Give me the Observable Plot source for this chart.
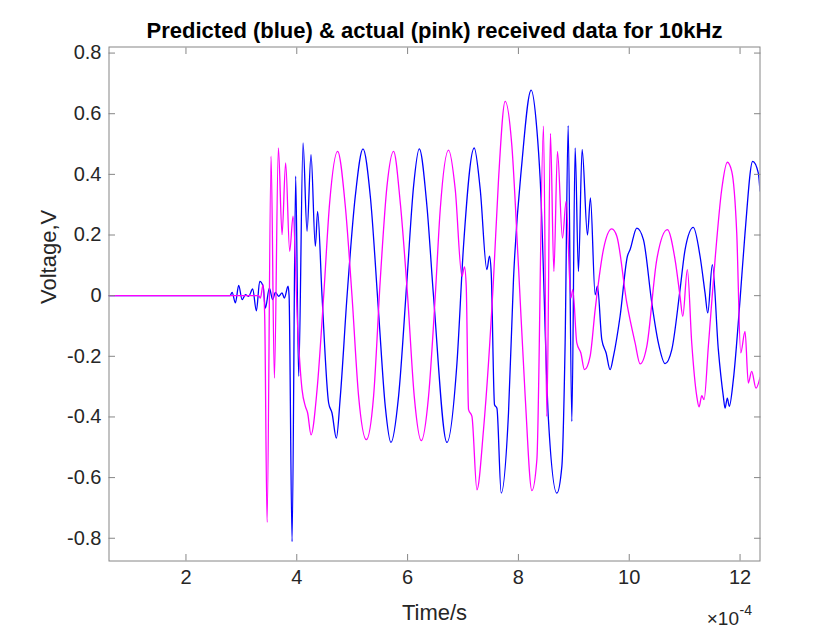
<!DOCTYPE html>
<html><head><meta charset="utf-8">
<script src="https://cdn.jsdelivr.net/npm/d3@7"></script>
<script src="https://cdn.jsdelivr.net/npm/@observablehq/plot@0.6"></script>
<style>body{margin:0;background:#fff} svg{display:block}</style>
</head><body><div id="chart"></div>
<script>
// time in units of 1e-4 s, voltage in V
const blueT = [0.611, 2.78, 2.802, 2.833, 2.892, 2.952, 3.013, 3.073, 3.132, 3.204, 3.271, 3.331, 3.392, 3.433, 3.505, 3.565, 3.614, 3.673, 3.734, 3.776, 3.843, 3.861, 3.915, 3.980, 4.034, 4.113, 4.185, 4.257, 4.335, 4.376, 4.456, 4.575, 4.636, 4.714, 4.786, 4.907, 5.056, 5.195, 5.327, 5.477, 5.597, 5.700, 5.837, 5.989, 6.108, 6.211, 6.349, 6.468, 6.710, 6.891, 7.009, 7.202, 7.311, 7.431, 7.478, 7.509, 7.569, 7.612, 7.689, 7.821, 7.911, 8.063, 8.230, 8.333, 8.393, 8.542, 8.694, 8.784, 8.843, 8.898, 8.964, 9.024, 9.083, 9.150, 9.246, 9.300, 9.385, 9.426, 9.505, 9.583, 9.655, 9.715, 9.835, 9.967, 10.016, 10.137, 10.256, 10.407, 10.526, 10.647, 10.768, 10.917, 11.008, 11.157, 11.278, 11.368, 11.417, 11.500, 11.608, 11.698, 11.729, 11.770, 11.806, 11.879, 12.000, 12.090, 12.228, 12.329, 12.36];
const blueV = [0, 0, 0.001, 0.011, -0.024, 0.034, -0.013, 0.003, -0.002, 0.022, -0.05, 0.047, 0.031, -0.041, 0.025, -0.013, 0.011, -0.002, 0.009, -0.008, 0.031, 0, -0.811, 0.394, -0.266, 0.504, 0.212, 0.465, 0.163, 0.278, -0.002, -0.354, -0.387, -0.47, -0.332, -0.002, 0.328, 0.484, 0.328, -0.057, -0.365, -0.484, -0.332, 0.053, 0.361, 0.484, 0.295, -0.002, -0.484, -0.222, 0.163, 0.487, 0.35, 0.086, 0.13, 0.075, -0.36, -0.371, -0.651, -0.387, 0.053, 0.438, 0.678, 0.548, 0.383, -0.409, -0.651, -0.563, -0.156, 0.561, -0.415, 0.487, 0.08, 0.482, 0.2, 0.322, 0.003, 0.031, -0.145, -0.189, -0.244, -0.2, -0.068, 0.13, 0.152, 0.223, 0.185, -0.024, -0.156, -0.224, -0.178, 0.02, 0.152, 0.225, 0.13, 0.009, -0.057, 0.102, -0.178, -0.332, -0.371, -0.338, -0.365, -0.277, -0.013, 0.207, 0.443, 0.405, 0.345];
const pinkT = [0.611, 3.312, 3.343, 3.392, 3.421, 3.464, 3.536, 3.596, 3.668, 3.734, 3.799, 3.872, 3.933, 4.016, 4.095, 4.155, 4.196, 4.257, 4.366, 4.485, 4.593, 4.737, 4.876, 4.997, 5.116, 5.255, 5.386, 5.507, 5.628, 5.747, 5.868, 6.000, 6.120, 6.247, 6.378, 6.499, 6.589, 6.739, 6.860, 6.981, 7.027, 7.058, 7.100, 7.161, 7.251, 7.370, 7.550, 7.641, 7.761, 7.882, 8.001, 8.122, 8.243, 8.333, 8.452, 8.513, 8.578, 8.640, 8.705, 8.795, 8.861, 8.946, 8.982, 9.054, 9.127, 9.192, 9.294, 9.385, 9.534, 9.686, 9.776, 9.956, 10.106, 10.196, 10.317, 10.497, 10.688, 10.827, 10.917, 10.966, 11.049, 11.128, 11.219, 11.260, 11.309, 11.350, 11.428, 11.549, 11.669, 11.770, 11.850, 11.940, 12.012, 12.090, 12.149, 12.210, 12.288, 12.36];
const pinkV = [0, 0, -0.008, 0.036, -0.068, -0.748, 0.46, -0.272, 0.487, 0.201, 0.438, 0.146, 0.262, -0.101, -0.31, -0.365, -0.387, -0.459, -0.31, -0.002, 0.306, 0.476, 0.295, -0.002, -0.332, -0.475, -0.332, 0.053, 0.361, 0.476, 0.306, -0.002, -0.332, -0.478, -0.332, -0.002, 0.284, 0.48, 0.35, 0.064, 0.095, 0.031, -0.376, -0.398, -0.64, -0.442, 0.053, 0.383, 0.641, 0.493, 0.097, -0.332, -0.643, -0.541, 0.559, -0.398, 0.535, 0.08, 0.476, 0.19, 0.311, -0.008, 0.02, -0.156, -0.189, -0.244, -0.2, -0.046, 0.152, 0.22, 0.196, -0.024, -0.156, -0.225, -0.167, 0.119, 0.218, 0.119, -0.002, -0.068, 0.086, -0.156, -0.332, -0.367, -0.33, -0.343, -0.167, 0.119, 0.35, 0.44, 0.41, 0.207, -0.189, -0.118, -0.288, -0.25, -0.305, -0.27];
const xTicks = [2, 4, 6, 8, 10, 12];
const yTicks = [-0.8, -0.6, -0.4, -0.2, 0, 0.2, 0.4, 0.6, 0.8];
const titleText = "Predicted (blue) & actual (pink) received data for 10kHz";
const xLabel = "Time/s";
const yLabel = "Voltage,V";

const blue = blueT.map((t, i) => ({t, v: blueV[i]}));
const pink = pinkT.map((t, i) => ({t, v: pinkV[i]}));

const grey = "#868686", ink = "#262626";
const font = "'Liberation Sans', Arial, Helvetica, sans-serif";
const fmtY = d => d === 0 ? "0" : d.toFixed(1);

const chart = Plot.plot({
  width: 840, height: 630,
  marginLeft: 108.5, marginRight: 80.5, marginTop: 46.5, marginBottom: 69.5,
  style: {fontFamily: font, background: "#fff", color: ink, overflow: "visible"},
  x: {domain: [0.611, 12.36]},
  y: {domain: [-0.875, 0.82]},
  marks: [
    Plot.line(blue, {x: "t", y: "v", stroke: "#0000ff", strokeWidth: 1.3, curve: "monotone-x", clip: true}),
    Plot.line(pink, {x: "t", y: "v", stroke: "#ff00ff", strokeWidth: 1.3, curve: "monotone-x", clip: true}),
    Plot.frame({stroke: grey}),
    Plot.axisX(xTicks, {anchor: "bottom", tickSize: -6.5, stroke: grey, tickFormat: () => "", label: null}),
    Plot.axisX(xTicks, {anchor: "top", tickSize: -6.5, stroke: grey, tickFormat: () => "", label: null}),
    Plot.axisY(yTicks, {anchor: "left", tickSize: -6.5, stroke: grey, tickFormat: () => "", label: null}),
    Plot.axisY(yTicks, {anchor: "right", tickSize: -6.5, stroke: grey, tickFormat: () => "", label: null}),
    Plot.axisX(xTicks, {anchor: "bottom", tickSize: 0, tickPadding: 9, fontSize: 20, fill: ink, label: null, tickFormat: d => String(d)}),
    Plot.axisY(yTicks, {anchor: "left", tickSize: 0, tickPadding: 7.5, fontSize: 20, fill: ink, label: null, tickFormat: fmtY}),
    Plot.text([titleText], {frameAnchor: "top", dy: -9, lineAnchor: "bottom", fontSize: 22, fontWeight: "bold", fill: "#000"}),
    Plot.text([xLabel], {frameAnchor: "bottom", dy: 59, lineAnchor: "bottom", fontSize: 22, fill: ink}),
    Plot.text([yLabel], {frameAnchor: "left", dx: -60, rotate: -90, lineAnchor: "middle", fontSize: 22, fill: ink}),
    Plot.text(["\u00d710"], {frameAnchor: "bottom-right", dx: -21, dy: 64, textAnchor: "end", lineAnchor: "bottom", fontSize: 19, fill: ink}),
    Plot.text(["-4"], {frameAnchor: "bottom-right", dx: -8, dy: 54, textAnchor: "end", lineAnchor: "bottom", fontSize: 14, fill: ink})
  ]
});
document.getElementById("chart").appendChild(chart);
</script>
</body></html>
